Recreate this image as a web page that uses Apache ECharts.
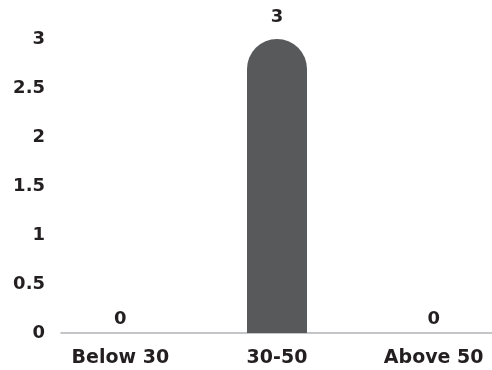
<!DOCTYPE html>
<html>
<head>
<meta charset="utf-8">
<script src="https://cdn.jsdelivr.net/npm/echarts@6/dist/echarts.min.js"></script>
<style>html,body{margin:0;padding:0;background:#fff}#c{width:492px;height:370px}</style>
</head>
<body>
<div id="c"></div>
<script>
var categories = ['Below 30', '30-50', 'Above 50'];
var values = [0, 3, 0];
var yTicks = [0, 0.5, 1, 1.5, 2, 2.5, 3];

var FONT = '"DejaVu Sans", sans-serif';
var TEXT = '#231f20';
var chart = echarts.init(document.getElementById('c'), null, {renderer: 'canvas'});
chart.setOption({
  animation: false,
  backgroundColor: '#ffffff',
  grid: [
    {left: 42, width: 470, top: 39, bottom: 37, containLabel: false, outerBoundsMode: 'none'},
    {left: 61, right: 0, top: 39, bottom: 37, containLabel: false, outerBoundsMode: 'none'}
  ],
  xAxis: [
    {
      type: 'category', gridIndex: 0, data: categories,
      axisLine: {show: false}, axisTick: {show: false},
      axisLabel: {color: TEXT, fontFamily: FONT, fontWeight: 'bold', fontSize: 19, margin: 16}
    },
    {
      type: 'value', gridIndex: 1, min: 0, max: 1,
      axisLine: {show: true, onZero: true, lineStyle: {color: '#b1b3b6', width: 1.5}},
      axisTick: {show: false}, axisLabel: {show: false}, splitLine: {show: false}
    }
  ],
  yAxis: [
    {
      type: 'value', gridIndex: 0, min: yTicks[0], max: yTicks[yTicks.length - 1], interval: 0.5,
      show: false, splitLine: {show: false}
    },
    {
      type: 'value', gridIndex: 1, min: yTicks[0], max: yTicks[yTicks.length - 1], interval: 0.5,
      axisLine: {show: false}, axisTick: {show: false}, splitLine: {show: false},
      axisLabel: {color: TEXT, fontFamily: FONT, fontWeight: 'bold', fontSize: 18, margin: 16}
    }
  ],
  series: [{
    type: 'bar', xAxisIndex: 0, yAxisIndex: 0,
    barWidth: 60,
    itemStyle: {color: '#58595b', borderRadius: [30, 30, 0, 0]},
    label: {show: true, position: 'top', distance: 13, color: TEXT, fontFamily: FONT, fontWeight: 'bold', fontSize: 18},
    data: values.map(function (v) {
      return v === 0 ? {value: v, label: {distance: 5}} : {value: v};
    })
  }]
});
</script>
</body>
</html>
